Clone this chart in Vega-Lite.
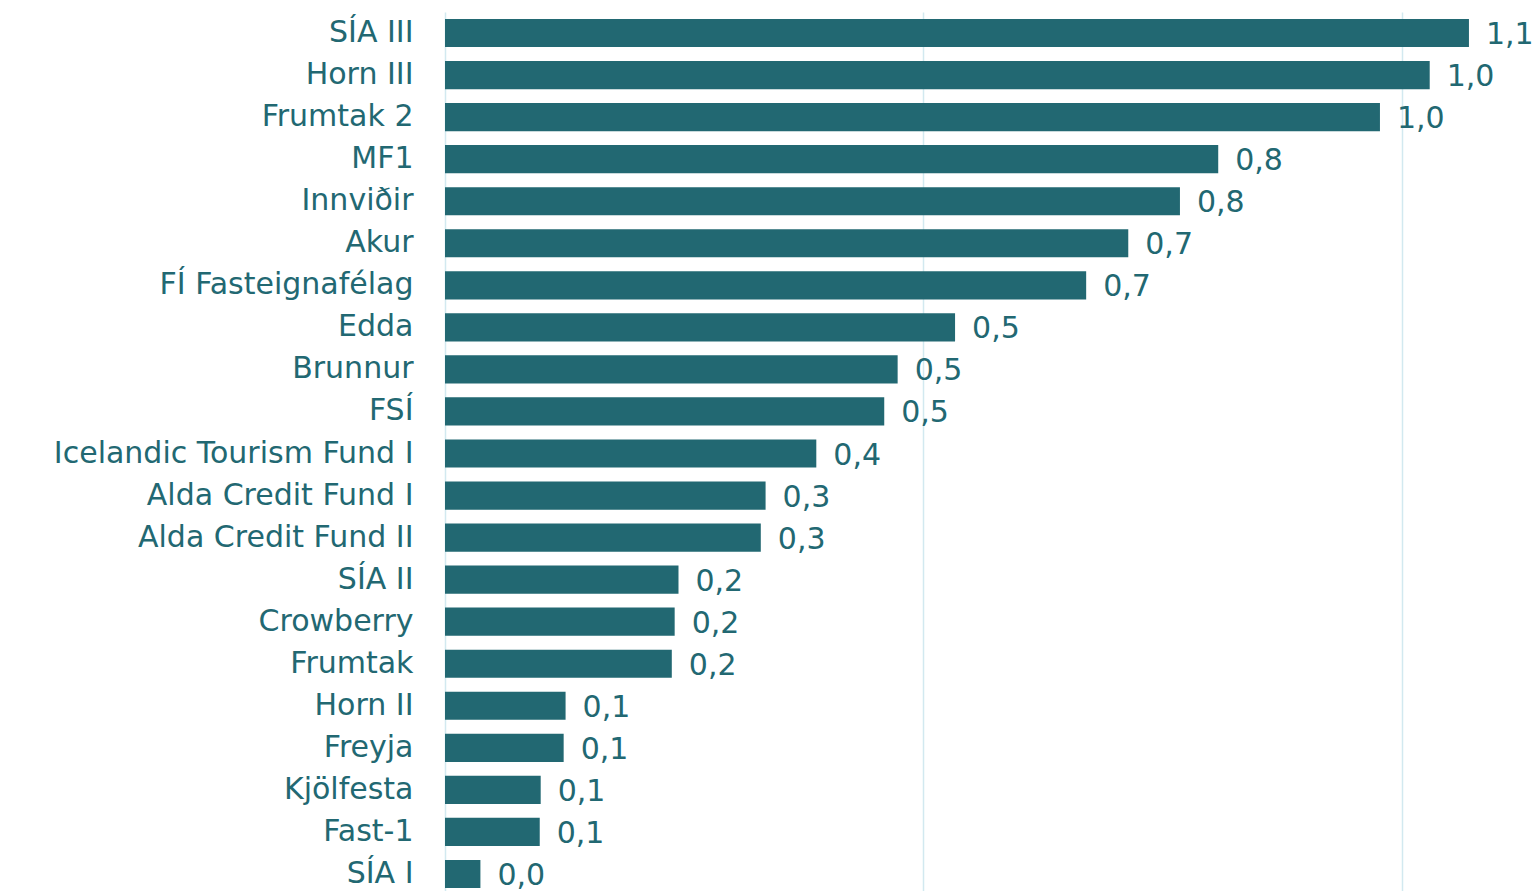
{
  "$schema": "https://vega.github.io/schema/vega-lite/v6.json",
  "autosize": "none",
  "width": 1094,
  "height": 883,
  "padding": {"left": 445, "top": 12, "right": 0, "bottom": 0},
  "background": "white",
  "data": {"values": [
    {"name": "SÍA III", "value": 1.070},
    {"name": "Horn III", "value": 1.029},
    {"name": "Frumtak 2", "value": 0.977},
    {"name": "MF1", "value": 0.808},
    {"name": "Innviðir", "value": 0.768},
    {"name": "Akur", "value": 0.714},
    {"name": "FÍ Fasteignafélag", "value": 0.670},
    {"name": "Edda", "value": 0.533},
    {"name": "Brunnur", "value": 0.473},
    {"name": "FSÍ", "value": 0.459},
    {"name": "Icelandic Tourism Fund I", "value": 0.388},
    {"name": "Alda Credit Fund I", "value": 0.335},
    {"name": "Alda Credit Fund II", "value": 0.330},
    {"name": "SÍA II", "value": 0.244},
    {"name": "Crowberry", "value": 0.240},
    {"name": "Frumtak", "value": 0.237},
    {"name": "Horn II", "value": 0.126},
    {"name": "Freyja", "value": 0.124},
    {"name": "Kjölfesta", "value": 0.100},
    {"name": "Fast-1", "value": 0.099},
    {"name": "SÍA I", "value": 0.037}
  ]},
  "transform": [
    {"calculate": "replace(format(datum.value, '.1f'), '.', ',')", "as": "label"}
  ],
  "encoding": {
    "y": {
      "field": "name", "type": "nominal", "sort": null,
      "scale": {"paddingInner": 0.33, "paddingOuter": 0.165},
      "axis": {
        "title": null, "ticks": false, "domain": false, "grid": false,
        "labelPadding": 32, "labelFont": "DejaVu Sans", "labelFontSize": 30,
        "labelColor": "#226872", "labelLimit": 0
      }
    },
    "x": {
      "field": "value", "type": "quantitative",
      "scale": {"domain": [0, 1.1432], "nice": false},
      "axis": {
        "title": null, "labels": false, "ticks": false, "domain": false,
        "values": [0, 0.5, 1], "grid": true, "gridColor": "#d2e9f0", "gridWidth": 1.5
      }
    }
  },
  "layer": [
    {"mark": {"type": "bar", "color": "#226872"}},
    {
      "mark": {"type": "text", "align": "left", "baseline": "middle", "dx": 17, "dy": 2,
               "font": "DejaVu Sans", "fontSize": 30, "color": "#226872"},
      "encoding": {"text": {"field": "label"}}
    }
  ],
  "config": {"view": {"stroke": null}}
}
